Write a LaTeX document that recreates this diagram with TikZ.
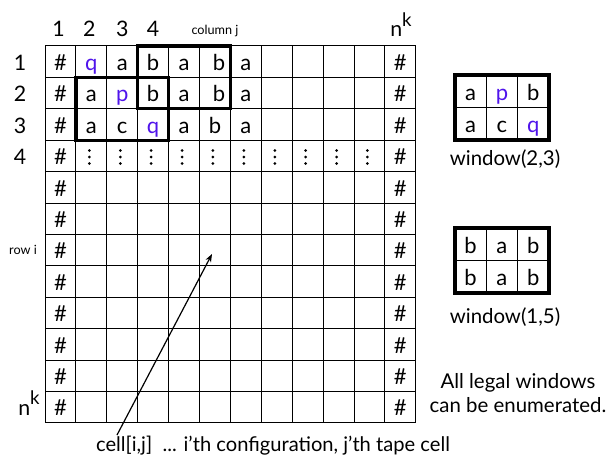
\documentclass[tikz,border=0pt]{standalone}
\usepackage{fontspec}
\setmainfont{Lato}
\usetikzlibrary{arrows.meta}
\definecolor{qblue}{RGB}{80,20,235}
\newcommand\cellfont{\fontsize{16.5}{19}\selectfont}
\newcommand\cw{30.9}
\newcommand\ch{31.4}
\newcommand\putcell[3]{\node[celltxt] (c#1-#2) at ({45+(#2+0.5)*\cw},{46+#1*\ch+24.5}) {#3};}
\newcommand\nk[2]{n\raisebox{0.5em}{\fontsize{#2}{#2}\selectfont k}}
\begin{document}
\begin{tikzpicture}[x=0.75pt,y=-0.75pt,
  gridline/.style={line width=0.75pt,black},
  winbox/.style={line width=2.4pt,black},
  rwinbox/.style={line width=3pt,black},
  celltxt/.style={font=\cellfont,anchor=base,inner sep=0pt},
  hdr/.style={font=\fontsize{16}{19}\selectfont,anchor=base,inner sep=0pt},
  small/.style={font=\fontsize{9.5}{11}\selectfont,anchor=base,inner sep=0pt},
  lbl/.style={font=\fontsize{15.3}{18}\selectfont,anchor=base,inner sep=0pt},
  caption/.style={font=\fontsize{15.1}{17}\selectfont,anchor=base,inner sep=0pt},
  dot/.style={fill=black,draw=none},
  pointer/.style={line width=0.9pt,-{Stealth[length=6pt,width=4.5pt]}}]
\useasboundingbox (0,0) rectangle (610,460);
% grid
\foreach \i in {0,...,12} \draw[gridline] ({45+\i*\cw},46) -- ({45+\i*\cw},{46+12*\ch});
\foreach \j in {0,...,12} \draw[gridline] (45,{46+\j*\ch}) -- ({45+12*\cw},{46+\j*\ch});
% row 0
\putcell{0}{0}{\#}
\putcell{0}{1}{\textcolor{qblue}{q}}
\putcell{0}{2}{a}
\putcell{0}{3}{b}
\putcell{0}{4}{a}
\putcell{0}{5}{\hspace{6pt}b}
\putcell{0}{6}{a}
% row 1
\putcell{1}{0}{\#}
\putcell{1}{1}{a}
\putcell{1}{2}{\textcolor{qblue}{p}}
\putcell{1}{3}{b}
\putcell{1}{4}{a}
\putcell{1}{5}{\hspace{6pt}b}
\putcell{1}{6}{a}
% row 2
\putcell{2}{0}{\#}
\putcell{2}{1}{a}
\putcell{2}{2}{c}
\putcell{2}{3}{\textcolor{qblue}{q}}
\putcell{2}{4}{a}
\putcell{2}{5}{b}
\putcell{2}{6}{a}
% row 3 dots
\putcell{3}{0}{\#}
\foreach \c in {1,...,10} {
  \fill[dot] ({45+(\c+0.5)*\cw-2},150.5) circle (1.5);
  \fill[dot] ({45+(\c+0.5)*\cw-2},157) circle (1.5);
  \fill[dot] ({45+(\c+0.5)*\cw-2},163.5) circle (1.5);
}
% # columns
\foreach \r in {4,...,11} {\putcell{\r}{0}{\#}}
\foreach \r in {0,...,11} {\putcell{\r}{11}{\#}}
% thick windows in grid
\draw[winbox] ({45+3*\cw},46) rectangle ({45+6*\cw},{46+2*\ch});
\draw[winbox] ({45+1*\cw},{46+\ch}) rectangle ({45+4*\cw},{46+3*\ch});
% column headers
\node[hdr] (h1) at ({45+0.5*\cw-2},37) {1};
\node[hdr] (h2) at ({45+1.5*\cw-2},37) {2};
\node[hdr] (h3) at ({45+2.5*\cw},37) {3};
\node[hdr] (h4) at ({45+3.5*\cw},37) {4};
\node[small] (colj) at (215,35) {column j};
\node[hdr] (hnk) at (401,37) {\nk{17}{14}};
% row headers
\node[hdr] (r1) at (20,{46+0*\ch+24.5}) {1};
\node[hdr] (r2) at (20,{46+1*\ch+24.5}) {2};
\node[hdr] (r3) at (20,{46+2*\ch+24.5}) {3};
\node[hdr] (r4) at (20,{46+3*\ch+24.5}) {4};
\node[small] (rowi) at (23,{46+6*\ch+20}) {row i};
\node[hdr] (rnk) at (29,415) {\nk{17}{14}};
% pointer
\coordinate (ptail) at (117,435);
\coordinate (phead) at (212,254);
\draw[pointer] (ptail) -- (phead);
\node[caption] (cap) at (273,451) {cell[i,j]\ \ ... i’th configuration, j’th tape cell};
% right window (2,3)
\foreach \r/\c/\t in {0/0/a,0/1/\textcolor{qblue}{p},0/2/b,1/0/a,1/1/c,1/2/\textcolor{qblue}{q}}
  {\node[celltxt] (wa-\r-\c) at ({455+(\c+0.5)*31.3},{75+\r*32.5+25}) {\t};}
\draw[gridline] (455,107.5) -- (549,107.5);
\draw[gridline] (486.3,75) -- (486.3,140);
\draw[gridline] (517.6,75) -- (517.6,140);
\draw[rwinbox] (455,75) rectangle (549,140);
\node[lbl] (wla) at (505,165) {window(2,3)};
% right window (1,5)
\foreach \r/\c/\t in {0/0/b,0/1/a,0/2/b,1/0/b,1/1/a,1/2/b}
  {\node[celltxt] (wb-\r-\c) at ({455+(\c+0.5)*31.3},{228+\r*32.5+25}) {\t};}
\draw[gridline] (455,260.5) -- (549,260.5);
\draw[gridline] (486.3,228) -- (486.3,293);
\draw[gridline] (517.6,228) -- (517.6,293);
\draw[rwinbox] (455,228) rectangle (549,293);
\node[lbl] (wlb) at (505,323) {window(1,5)};
% note
\node[lbl] (note1) at (518,388) {All legal windows};
\node[lbl] (note2) at (518,412) {can be enumerated.};
\end{tikzpicture}
\end{document}
